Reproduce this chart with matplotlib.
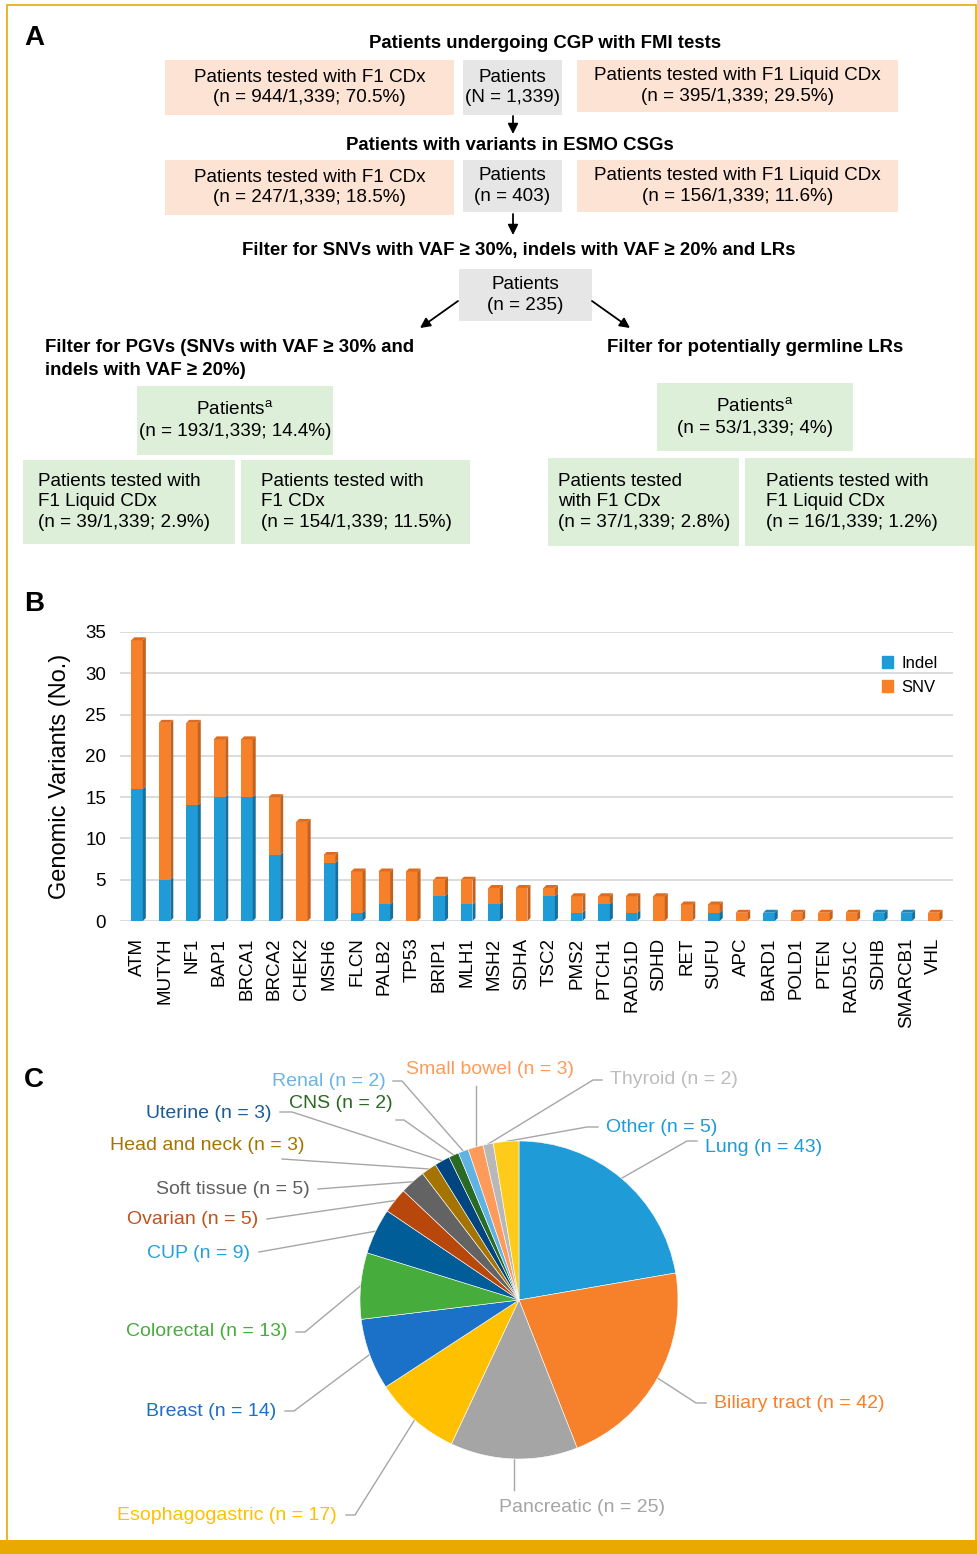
import matplotlib
matplotlib.use("Agg")
import matplotlib.pyplot as plt
from matplotlib.patches import Rectangle, Polygon, FancyArrowPatch, Patch
import numpy as np

plt.rcParams['font.family'] = ['Liberation Sans', 'DejaVu Sans']
plt.rcParams['mathtext.fontset'] = 'custom'
plt.rcParams['mathtext.rm'] = 'Liberation Sans'

# ---------------- data ----------------
genes = ["ATM", "MUTYH", "NF1", "BAP1", "BRCA1", "BRCA2", "CHEK2", "MSH6", "FLCN", "PALB2",
         "TP53", "BRIP1", "MLH1", "MSH2", "SDHA", "TSC2", "PMS2", "PTCH1", "RAD51D", "SDHD",
         "RET", "SUFU", "APC", "BARD1", "POLD1", "PTEN", "RAD51C", "SDHB", "SMARCB1", "VHL"]
indel = [16, 5, 14, 15, 15, 8, 0, 7, 1, 2, 0, 3, 2, 2, 0, 3, 1, 2, 1, 0, 0, 1, 0, 1, 0, 0, 0, 1, 1, 0]
snv = [18, 19, 10, 7, 7, 7, 12, 1, 5, 4, 6, 2, 3, 2, 4, 1, 2, 1, 2, 3, 2, 1, 1, 0, 1, 1, 1, 0, 0, 1]
yticks = [0, 5, 10, 15, 20, 25, 30, 35]

tumor_types = ["Lung", "Biliary tract", "Pancreatic", "Esophagogastric", "Breast", "Colorectal",
               "CUP", "Ovarian", "Soft tissue", "Head and neck", "Uterine", "CNS", "Renal",
               "Small bowel", "Thyroid", "Other"]
tumor_counts = [43, 42, 25, 17, 14, 13, 9, 5, 5, 3, 3, 2, 2, 3, 2, 5]
slice_colors = ["#1f9bd7", "#f7802a", "#a5a5a5", "#ffc000", "#1b70c8", "#46ac3c",
                "#005d97", "#b8470c", "#636363", "#a57400", "#00457f", "#2a6a24",
                "#5fb2e4", "#ff9b5a", "#b8b8b8", "#ffcb1a"]
label_colors = ["#1f9bd7", "#f7802a", "#a5a5a5", "#ffc000", "#1b70c8", "#46ac3c",
                "#25a0dc", "#c0521c", "#5f5f5f", "#a57400", "#1c5a92", "#2a6a24",
                "#6ab4e4", "#ff9b5a", "#bdbdbd", "#1f9bd7"]

W, H = 978, 1554
fig = plt.figure(figsize=(W / 100, H / 100), dpi=100)


def rect(x0, y0, x1, y1):
    return [x0 / W, 1 - y1 / H, (x1 - x0) / W, (y1 - y0) / H]


ov = fig.add_axes([0, 0, 1, 1])
ov.set_xlim(0, W)
ov.set_ylim(H, 0)
ov.axis('off')
ov.patch.set_visible(False)

# frame
gold = "#e9a900"
ov.plot([7, 7, 976, 976], [1540, 5, 5, 1540], color=gold, lw=1.2, solid_joinstyle='miter')
ov.add_patch(Rectangle((0, 1540), W, 14, color=gold, lw=0))

# panel labels
for lab, y in [("A", 38), ("B", 604), ("C", 1080)]:
    ov.text(24, y, lab, fontsize=20, fontweight='bold', va='center', ha='left')

PEACH, GRAY, GREEN = "#fde3d4", "#e6e6e6", "#ddefd9"
FS = 13.6


def box(x0, y0, x1, y1, color, text, ha='center', tx=None):
    ov.add_patch(Rectangle((x0, y0), x1 - x0, y1 - y0, color=color, lw=0))
    if tx is None:
        tx = (x0 + x1) / 2
    ov.text(tx, (y0 + y1) / 2, text, ha=ha, va='center', fontsize=FS,
            linespacing=1.3, multialignment=ha if ha != 'center' else 'center')


def header(x, y, text, ha='center'):
    ov.text(x, y, text, ha=ha, va='center', fontsize=13.4, fontweight='bold', linespacing=1.4)


def arrow(p0, p1):
    ov.add_patch(FancyArrowPatch(p0, p1, arrowstyle='-|>', mutation_scale=15, color='black',
                                 lw=1.3, shrinkA=0, shrinkB=0))


header(545, 43, "Patients undergoing CGP with FMI tests")
box(165, 60, 454, 115, PEACH, "Patients tested with F1 CDx\n(n = 944/1,339; 70.5%)")
box(463, 60, 562, 115, GRAY, "Patients\n(N = 1,339)")
box(577, 60, 898, 112, PEACH, "Patients tested with F1 Liquid CDx\n(n = 395/1,339; 29.5%)")
arrow((513, 116), (513, 134))

header(510, 146, "Patients with variants in ESMO CSGs")
box(165, 160, 454, 215, PEACH, "Patients tested with F1 CDx\n(n = 247/1,339; 18.5%)")
box(463, 160, 562, 212, GRAY, "Patients\n(n = 403)")
box(577, 160, 898, 212, PEACH, "Patients tested with F1 Liquid CDx\n(n = 156/1,339; 11.6%)")
arrow((513, 214), (513, 235))

header(519, 251, "Filter for SNVs with VAF \u2265 30%, indels with VAF \u2265 20% and LRs")
box(459, 269, 592, 321, GRAY, "Patients\n(n = 235)")
arrow((458, 301), (420, 328))
arrow((592, 301), (630, 328))

header(45, 359, "Filter for PGVs (SNVs with VAF \u2265 30% and\nindels with VAF \u2265 20%)", ha='left')
header(755, 348, "Filter for potentially germline LRs")

box(137, 386, 333, 455, GREEN, "Patients$^{\\rm a}$\n(n = 193/1,339; 14.4%)")
box(23, 460, 235, 544, GREEN, "Patients tested with\nF1 Liquid CDx\n(n = 39/1,339; 2.9%)", ha='left', tx=38)
box(241, 460, 470, 544, GREEN, "Patients tested with\nF1 CDx\n(n = 154/1,339; 11.5%)", ha='left', tx=261)

box(657, 383, 853, 451, GREEN, "Patients$^{\\rm a}$\n(n = 53/1,339; 4%)")
box(548, 458, 739, 546, GREEN, "Patients tested\nwith F1 CDx\n(n = 37/1,339; 2.8%)", ha='left', tx=558)
box(745, 458, 975, 546, GREEN, "Patients tested with\nF1 Liquid CDx\n(n = 16/1,339; 1.2%)", ha='left', tx=766)

# ---------------- panel B ----------------
axb = fig.add_axes(rect(120, 632, 953, 921))
x = np.arange(len(genes))
bw, dx, dy = 0.42, 0.11, 0.36
BLUE, ORANGE = "#1f9bd7", "#f7802a"
BLUE_D, ORANGE_D = "#15709e", "#c4611c"
BLUE_T, ORANGE_T = "#1a86bb", "#dd6c1f"
indel_a = np.array(indel)
snv_a = np.array(snv)
axb.bar(x, indel_a, width=bw, color=BLUE, zorder=3, lw=0)
axb.bar(x, snv_a, bottom=indel_a, width=bw, color=ORANGE, zorder=3, lw=0)
for xi, a, b in zip(x, indel_a, snv_a):
    xr = xi + bw / 2
    segs = []
    if a > 0:
        segs.append((0, a, BLUE_D))
    if b > 0:
        segs.append((a, a + b, ORANGE_D))
    for y0, y1, c in segs:
        axb.add_patch(Polygon([(xr, y0), (xr + dx, y0 + dy), (xr + dx, y1 + dy), (xr, y1)],
                              closed=True, color=c, lw=0, zorder=3, clip_on=False))
    top = a + b
    tc = ORANGE_T if b > 0 else BLUE_T
    axb.add_patch(Polygon([(xi - bw / 2, top), (xr, top), (xr + dx, top + dy), (xi - bw / 2 + dx, top + dy)],
                          closed=True, color=tc, lw=0, zorder=3, clip_on=False))

axb.set_xlim(-0.62, 29.7)
axb.set_ylim(0, 35)
axb.set_yticks(yticks)
axb.tick_params(axis='y', length=0, labelsize=13.5, pad=10)
axb.tick_params(axis='x', length=0, labelsize=13.5, pad=12)
axb.set_xticks(x)
axb.set_xticklabels(genes, rotation=90)
axb.yaxis.grid(True, color="#d9d9d9", lw=1.3)
axb.set_axisbelow(True)
for s in axb.spines.values():
    s.set_visible(False)
axb.set_ylabel("Genomic Variants (No.)", fontsize=17, labelpad=10)
axb.legend(handles=[Patch(color=BLUE, label="Indel"), Patch(color=ORANGE, label="SNV")],
           loc='upper right', bbox_to_anchor=(1.0, 0.97), frameon=False, fontsize=12,
           handlelength=0.7, handleheight=0.7, handletextpad=0.5, labelspacing=0.55)

# ---------------- panel C ----------------
cx, cy, R = 519, 1300, 159
axp = fig.add_axes(rect(cx - R, cy - R, cx + R, cy + R))
axp.pie(tumor_counts, colors=slice_colors, startangle=90, counterclock=False, radius=1,
        wedgeprops=dict(edgecolor='white', linewidth=0.4))
axp.set_xlim(-1, 1)
axp.set_ylim(-1, 1)
axp.set_aspect('equal')
axp.axis('off')

total = sum(tumor_counts)
cum = np.cumsum([0] + tumor_counts)
mids = [np.deg2rad(90 - (cum[i] + tumor_counts[i] / 2) / total * 360) for i in range(len(tumor_counts))]
edge_pts = [(cx + R * np.cos(m), cy - R * np.sin(m)) for m in mids]

# label layout: (text x, text y, ha, leader points from text side toward the pie)
layout = {
    "Lung": (705, 1147, 'left', [(697, 1141), (687, 1141)]),
    "Biliary tract": (714, 1403, 'left', [(706, 1403), (696, 1403)]),
    "Pancreatic": (582, 1508, 'center', [(None, 1490)]),
    "Esophagogastric": (337, 1515, 'right', [(346, 1515), (355, 1515)]),
    "Breast": (276, 1411, 'right', [(285, 1411), (294, 1411)]),
    "Colorectal": (287, 1332, 'right', [(296, 1332), (305, 1332)]),
    "CUP": (250, 1253, 'right', [(259, 1252)]),
    "Ovarian": (258, 1220, 'right', [(267, 1219)]),
    "Soft tissue": (310, 1189, 'right', [(318, 1189)]),
    "Head and neck": (304, 1145, 'right', [(282, 1159)]),
    "Uterine": (271, 1113, 'right', [(280, 1112), (292, 1112)]),
    "CNS": (393, 1104, 'right', [(396, 1120), (404, 1120)]),
    "Renal": (386, 1081, 'right', [(393, 1081), (402, 1081)]),
    "Small bowel": (490, 1069, 'center', [(None, 1086)]),
    "Thyroid": (610, 1080, 'left', [(602, 1080), (593, 1080)]),
    "Other": (606, 1127, 'left', [(598, 1127), (587, 1127)]),
}
for i, name in enumerate(tumor_types):
    tx, ty, ha, pts = layout[name]
    ex, ey = edge_pts[i]
    pts = [(ex if px is None else px, py) for px, py in pts]
    xs = [p[0] for p in pts] + [ex]
    ys = [p[1] for p in pts] + [ey]
    ov.plot(xs, ys, color="#a6a6a6", lw=1.0)
    ov.text(tx, ty, f"{name} (n = {tumor_counts[i]})", ha=ha, va='center',
            fontsize=14, color=label_colors[i])

fig.savefig("out.png", dpi=100)
